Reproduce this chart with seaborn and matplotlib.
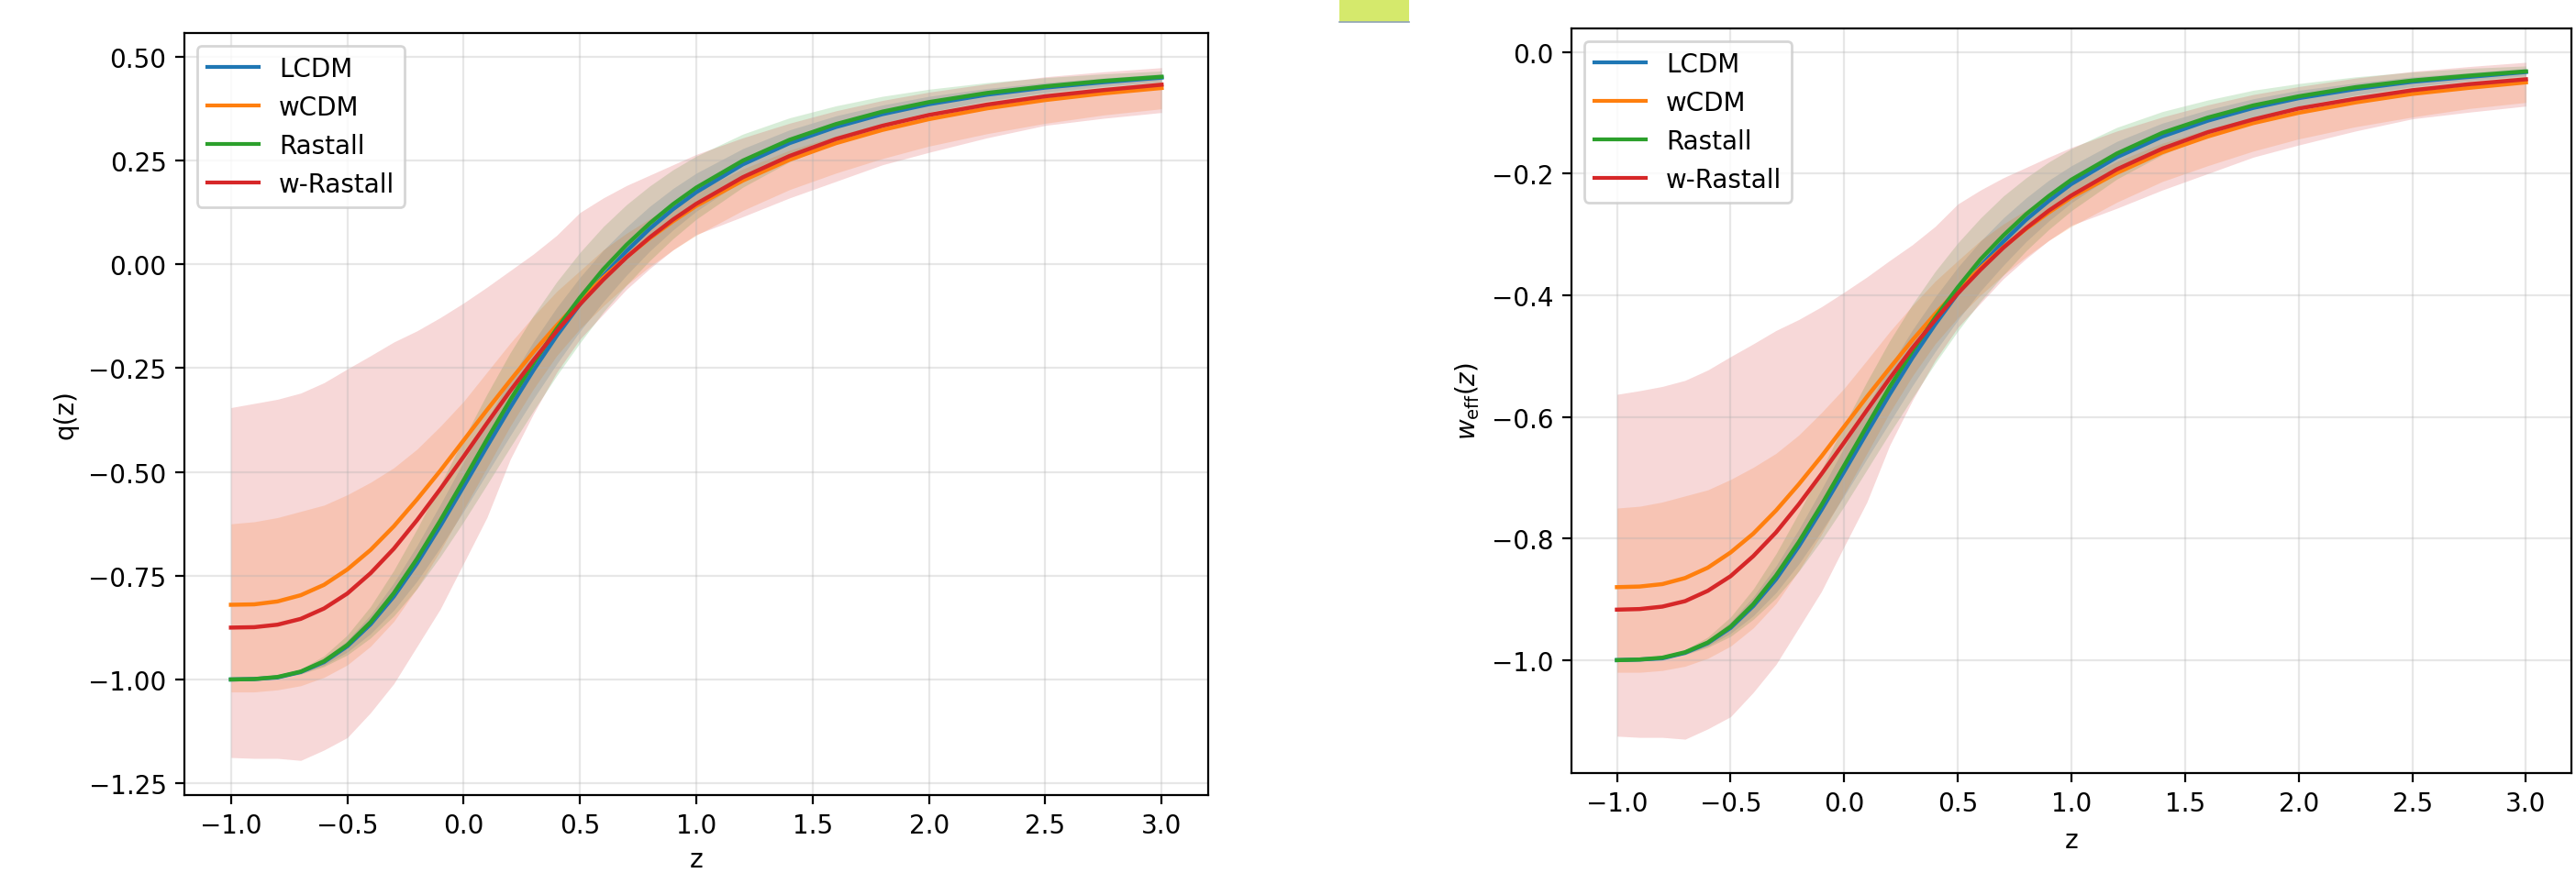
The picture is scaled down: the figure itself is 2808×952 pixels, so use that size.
import numpy as np
import matplotlib
matplotlib.use("Agg")
import matplotlib.pyplot as plt
from matplotlib.patches import Rectangle
from matplotlib.lines import Line2D
import seaborn as sns

# ---------------- data ----------------
z = [-1.0, -0.9, -0.8, -0.7, -0.6, -0.5, -0.4, -0.3, -0.2, -0.1, 0.0, 0.1, 0.2, 0.3, 0.4,
     0.5, 0.6, 0.7, 0.8, 0.9, 1.0, 1.2, 1.4, 1.6, 1.8, 2.0, 2.25, 2.5, 2.75, 3.0]

models = ["LCDM", "wCDM", "Rastall", "w-Rastall"]

# deceleration parameter q(z)
q_lcdm = [-1.000, -0.999, -0.995, -0.982, -0.958, -0.920, -0.867, -0.800, -0.720, -0.630, -0.535, -0.439, -0.345, -0.255, -0.172,
          -0.096, -0.028, 0.032, 0.086, 0.133, 0.174, 0.241, 0.292, 0.331, 0.362, 0.386, 0.409, 0.426, 0.439, 0.450]
q_lcdm_lo = [-1.000, -0.999, -0.996, -0.985, -0.966, -0.934, -0.890, -0.833, -0.763, -0.682, -0.595, -0.504, -0.413, -0.324, -0.240,
             -0.161, -0.090, -0.026, 0.032, 0.083, 0.128, 0.203, 0.260, 0.304, 0.340, 0.367, 0.394, 0.414, 0.429, 0.441]
q_lcdm_hi = [-1.000, -0.999, -0.994, -0.979, -0.950, -0.906, -0.844, -0.767, -0.677, -0.578, -0.475, -0.374, -0.277, -0.186, -0.104,
             -0.031, 0.034, 0.090, 0.140, 0.183, 0.220, 0.279, 0.324, 0.358, 0.384, 0.405, 0.424, 0.438, 0.449, 0.459]

q_wcdm = [-0.820, -0.819, -0.812, -0.797, -0.772, -0.735, -0.688, -0.631, -0.566, -0.497, -0.424, -0.351, -0.280, -0.211, -0.147,
          -0.087, -0.032, 0.018, 0.063, 0.104, 0.141, 0.202, 0.252, 0.292, 0.324, 0.350, 0.376, 0.396, 0.412, 0.425]
q_wcdm_lo = [-1.030, -1.030, -1.025, -1.015, -0.995, -0.965, -0.920, -0.860, -0.780, -0.690, -0.590, -0.490, -0.390, -0.300, -0.220,
             -0.155, -0.100, -0.050, -0.005, 0.035, 0.070, 0.130, 0.180, 0.220, 0.255, 0.285, 0.315, 0.340, 0.360, 0.375]
q_wcdm_hi = [-0.625, -0.620, -0.610, -0.595, -0.580, -0.555, -0.525, -0.490, -0.445, -0.390, -0.330, -0.260, -0.190, -0.125, -0.065,
             -0.015, 0.035, 0.075, 0.110, 0.145, 0.175, 0.230, 0.275, 0.310, 0.340, 0.365, 0.390, 0.410, 0.425, 0.440]

q_rast = [-1.000, -0.999, -0.994, -0.981, -0.956, -0.917, -0.862, -0.792, -0.709, -0.617, -0.520, -0.422, -0.327, -0.238, -0.155,
          -0.080, -0.012, 0.047, 0.099, 0.145, 0.185, 0.250, 0.300, 0.338, 0.368, 0.391, 0.413, 0.429, 0.442, 0.452]
q_rast_lo = [-1.000, -0.999, -0.996, -0.987, -0.969, -0.941, -0.900, -0.847, -0.781, -0.704, -0.620, -0.531, -0.441, -0.353, -0.268,
             -0.189, -0.115, -0.050, 0.009, 0.062, 0.109, 0.186, 0.247, 0.294, 0.331, 0.360, 0.388, 0.408, 0.425, 0.438]
q_rast_hi = [-1.000, -0.999, -0.992, -0.975, -0.943, -0.893, -0.824, -0.737, -0.637, -0.530, -0.420, -0.313, -0.213, -0.123, -0.042,
             0.029, 0.091, 0.144, 0.189, 0.228, 0.261, 0.314, 0.353, 0.382, 0.405, 0.422, 0.438, 0.450, 0.459, 0.466]

q_wrast = [-0.875, -0.874, -0.868, -0.854, -0.829, -0.793, -0.744, -0.685, -0.616, -0.541, -0.463, -0.383, -0.305, -0.231, -0.161,
           -0.096, -0.037, 0.017, 0.065, 0.108, 0.146, 0.210, 0.261, 0.302, 0.334, 0.360, 0.385, 0.405, 0.420, 0.433]
q_wrast_lo = [-1.188, -1.190, -1.190, -1.195, -1.170, -1.140, -1.080, -1.010, -0.920, -0.830, -0.720, -0.610, -0.470, -0.360, -0.260,
              -0.180, -0.120, -0.060, -0.010, 0.035, 0.072, 0.115, 0.160, 0.200, 0.240, 0.270, 0.305, 0.335, 0.352, 0.366]
q_wrast_hi = [-0.345, -0.335, -0.325, -0.310, -0.285, -0.252, -0.220, -0.187, -0.160, -0.128, -0.093, -0.055, -0.015, 0.025, 0.070,
              0.125, 0.160, 0.190, 0.215, 0.240, 0.265, 0.305, 0.340, 0.370, 0.395, 0.415, 0.435, 0.452, 0.464, 0.474]

# effective equation of state w_eff(z)
w_lcdm = [-1.000, -0.999, -0.997, -0.988, -0.972, -0.947, -0.911, -0.867, -0.813, -0.753, -0.690, -0.626, -0.563, -0.503, -0.448,
          -0.397, -0.352, -0.312, -0.276, -0.245, -0.217, -0.173, -0.139, -0.113, -0.092, -0.076, -0.061, -0.049, -0.041, -0.033]
w_lcdm_lo = [-1.000, -0.999, -0.997, -0.990, -0.977, -0.956, -0.927, -0.889, -0.842, -0.788, -0.730, -0.669, -0.609, -0.549, -0.493,
             -0.441, -0.393, -0.351, -0.312, -0.278, -0.248, -0.198, -0.160, -0.131, -0.107, -0.089, -0.071, -0.057, -0.047, -0.039]
w_lcdm_hi = [-1.000, -0.999, -0.996, -0.986, -0.967, -0.937, -0.896, -0.845, -0.785, -0.719, -0.650, -0.583, -0.518, -0.457, -0.403,
             -0.354, -0.311, -0.273, -0.240, -0.211, -0.187, -0.147, -0.117, -0.095, -0.077, -0.063, -0.051, -0.041, -0.034, -0.027]

w_wcdm = [-0.880, -0.879, -0.875, -0.865, -0.848, -0.823, -0.792, -0.754, -0.711, -0.665, -0.616, -0.567, -0.520, -0.474, -0.431,
          -0.391, -0.355, -0.321, -0.291, -0.264, -0.239, -0.199, -0.165, -0.139, -0.117, -0.100, -0.083, -0.069, -0.059, -0.050]
w_wcdm_lo = [-1.020, -1.020, -1.017, -1.010, -0.997, -0.977, -0.947, -0.907, -0.853, -0.793, -0.727, -0.660, -0.593, -0.533, -0.480,
             -0.437, -0.400, -0.367, -0.337, -0.310, -0.287, -0.247, -0.213, -0.187, -0.163, -0.143, -0.123, -0.107, -0.093, -0.083]
w_wcdm_hi = [-0.750, -0.747, -0.740, -0.730, -0.720, -0.703, -0.683, -0.660, -0.630, -0.593, -0.553, -0.507, -0.460, -0.417, -0.377,
             -0.343, -0.310, -0.283, -0.260, -0.237, -0.217, -0.180, -0.150, -0.127, -0.107, -0.090, -0.073, -0.060, -0.050, -0.040]

w_rast = [-1.000, -0.999, -0.996, -0.987, -0.971, -0.945, -0.908, -0.861, -0.806, -0.745, -0.680, -0.615, -0.551, -0.492, -0.437,
          -0.387, -0.341, -0.302, -0.267, -0.237, -0.210, -0.167, -0.133, -0.108, -0.088, -0.073, -0.058, -0.047, -0.039, -0.032]
w_rast_lo = [-1.000, -0.999, -0.997, -0.991, -0.979, -0.961, -0.933, -0.898, -0.854, -0.803, -0.747, -0.687, -0.627, -0.569, -0.512,
             -0.459, -0.410, -0.367, -0.327, -0.292, -0.261, -0.209, -0.169, -0.137, -0.113, -0.093, -0.075, -0.061, -0.050, -0.041]
w_rast_hi = [-1.000, -0.999, -0.995, -0.983, -0.962, -0.929, -0.883, -0.825, -0.758, -0.687, -0.613, -0.542, -0.475, -0.415, -0.361,
             -0.314, -0.273, -0.237, -0.207, -0.181, -0.159, -0.124, -0.098, -0.079, -0.063, -0.052, -0.041, -0.033, -0.027, -0.023]

w_wrast = [-0.917, -0.916, -0.912, -0.903, -0.886, -0.862, -0.829, -0.790, -0.744, -0.694, -0.642, -0.589, -0.537, -0.487, -0.441,
           -0.397, -0.358, -0.322, -0.290, -0.261, -0.236, -0.193, -0.159, -0.132, -0.111, -0.093, -0.077, -0.063, -0.053, -0.045]
w_wrast_lo = [-1.125, -1.127, -1.127, -1.130, -1.113, -1.093, -1.053, -1.007, -0.947, -0.887, -0.813, -0.740, -0.647, -0.573, -0.507,
              -0.453, -0.413, -0.373, -0.340, -0.310, -0.285, -0.257, -0.227, -0.200, -0.173, -0.153, -0.130, -0.110, -0.099, -0.089]
w_wrast_hi = [-0.563, -0.557, -0.550, -0.540, -0.523, -0.501, -0.480, -0.458, -0.440, -0.419, -0.395, -0.370, -0.343, -0.317, -0.287,
              -0.250, -0.227, -0.207, -0.190, -0.173, -0.157, -0.130, -0.107, -0.087, -0.070, -0.057, -0.043, -0.032, -0.024, -0.017]

xticks = [-1.0, -0.5, 0.0, 0.5, 1.0, 1.5, 2.0, 2.5, 3.0]
q_ticks = [-1.25, -1.0, -0.75, -0.5, -0.25, 0.0, 0.25, 0.5]
w_ticks = [-1.0, -0.8, -0.6, -0.4, -0.2, 0.0]

# ---------------- figure ----------------
W, H, DPI = 2808, 953, 200
fig = plt.figure(figsize=(W / DPI, H / DPI), dpi=DPI)
plt.rcParams['font.family'] = ['DejaVu Sans']

colors = sns.color_palette("tab10", 4)

def px_axes(l, t, r, b):
    return fig.add_axes([l / W, 1 - b / H, (r - l) / W, (b - t) / H])

ax1 = px_axes(201, 37, 1317, 868)
ax2 = px_axes(1713, 32, 2803, 844)

panels = [
    (ax1, [(q_lcdm, q_lcdm_lo, q_lcdm_hi), (q_wcdm, q_wcdm_lo, q_wcdm_hi),
           (q_rast, q_rast_lo, q_rast_hi), (q_wrast, q_wrast_lo, q_wrast_hi)], "q(z)", q_ticks, 3),
    (ax2, [(w_lcdm, w_lcdm_lo, w_lcdm_hi), (w_wcdm, w_wcdm_lo, w_wcdm_hi),
           (w_rast, w_rast_lo, w_rast_hi), (w_wrast, w_wrast_lo, w_wrast_hi)], r"$w_{\mathrm{eff}}(z)$", w_ticks, 4),
]

for ax, series, ylab, yt, lp in panels:
    for name, col, (mid, lo, hi) in zip(models, colors, series):
        ax.fill_between(z, lo, hi, color=col, alpha=0.18, linewidth=0)
        sns.lineplot(x=z, y=mid, ax=ax, color=col, linewidth=1.6, label=name, legend=False)
    ax.set_xlabel("z", fontsize=10, labelpad=lp)
    ax.set_ylabel(ylab, fontsize=10)
    ax.grid(True, alpha=0.3)
    ax.tick_params(labelsize=10)
    ax.set_xticks(xticks)
    ax.set_yticks(yt)
    handles = [Line2D([], [], color=c, lw=1.5) for c in colors]
    ax.legend(handles, models, loc="upper left", fontsize=10)
    for s in ax.spines.values():
        s.set_color("black")

# small highlight patch seen at the top of the reference image
fig.patches.append(Rectangle((1460 / W, 1 - 25 / H), 76 / W, 25 / H,
                             transform=fig.transFigure, facecolor="#d5e96c",
                             edgecolor="none", zorder=5))
fig.lines.append(Line2D([1460 / W, 1536 / W], [1 - 24.5 / H, 1 - 24.5 / H],
                        transform=fig.transFigure, color="#8fa3b5", lw=0.6, zorder=6))

fig.savefig("out.png", dpi=DPI)
